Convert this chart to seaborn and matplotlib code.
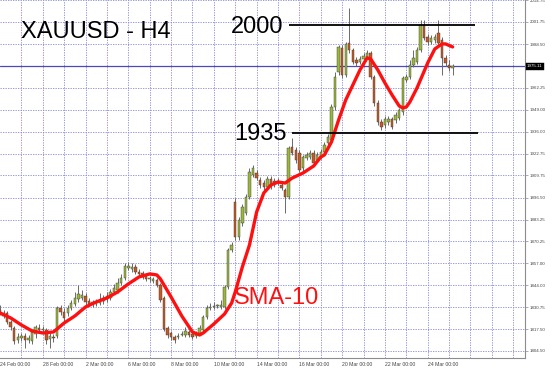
import matplotlib
matplotlib.use("Agg")
import matplotlib.pyplot as plt
import matplotlib.transforms as mtransforms
import seaborn as sns
import numpy as np
import pandas as pd

# ---------------- data (H4 bars, index 0 = 24 Feb 00:00) ----------------
opens = [1829.1, 1825.5, 1827.3, 1821.9, 1818.3, 1811.1, 1812.3, 1813.5, 1811.1, 1810.5,
         1814.7, 1818.3, 1817.1, 1817.1, 1811.7, 1812.9, 1813.5, 1830.3, 1827.9, 1827.3,
         1830.3, 1832.7, 1835.7, 1836.3, 1837.5, 1834.5, 1832.7, 1832.7, 1833.3, 1834.5,
         1835.7, 1836.3, 1839.9, 1841.1, 1845.3, 1848.3, 1854.3, 1853.7, 1854.9, 1851.9,
         1851.3, 1850.1, 1847.7, 1846.5, 1847.1, 1844.1, 1836.3, 1818.3, 1815.3, 1812.9,
         1812.9, 1814.1, 1814.1, 1815.9, 1814.7, 1813.5, 1815.3, 1817.1, 1824.9, 1830.3,
         1830.9, 1831.5, 1830.9, 1830.9, 1842.9, 1865.1, 1893.8, 1872.9, 1881.2, 1887.2,
         1896.8, 1910.0, 1911.2, 1907.0, 1905.2, 1902.8, 1907.6, 1906.4, 1905.8, 1904.0,
         1901.0, 1896.8, 1926.8, 1925.0, 1923.2, 1914.2, 1920.2, 1920.8, 1923.2, 1919.0,
         1920.8, 1923.8, 1929.2, 1931.0, 1950.8, 1971.8, 1986.2, 1970.0, 1989.2, 1985.0,
         1979.0, 1977.8, 1979.6, 1980.8, 1983.2, 1968.8, 1953.2, 1941.8, 1940.0, 1941.8,
         1943.6, 1943.0, 1944.2, 1947.8, 1967.0, 1968.8, 1976.0, 1977.8, 1985.0, 1999.9,
         1992.8, 1989.8, 1991.0, 1995.1, 1991.0, 1980.2, 1976.0, 1974.2]
highs = [1832.1, 1829.1, 1828.5, 1823.1, 1819.5, 1815.3, 1815.3, 1815.3, 1814.1, 1817.7,
         1820.1, 1820.7, 1819.5, 1818.3, 1815.3, 1814.7, 1831.5, 1832.1, 1830.3, 1832.1,
         1835.1, 1839.9, 1844.1, 1841.1, 1839.3, 1836.3, 1835.1, 1835.7, 1839.3, 1838.1,
         1839.9, 1841.7, 1844.7, 1848.3, 1850.7, 1857.3, 1857.9, 1857.3, 1856.7, 1853.7,
         1852.5, 1851.3, 1849.5, 1848.9, 1848.3, 1845.3, 1837.5, 1819.5, 1816.5, 1814.1,
         1815.3, 1816.5, 1818.9, 1817.1, 1815.9, 1816.5, 1820.1, 1826.1, 1832.1, 1833.3,
         1833.9, 1832.7, 1835.1, 1844.1, 1866.3, 1869.9, 1896.2, 1884.8, 1892.6, 1898.6,
         1914.2, 1916.0, 1913.0, 1908.8, 1907.0, 1909.4, 1909.4, 1908.2, 1908.2, 1905.8,
         1902.2, 1927.4, 1932.2, 1926.8, 1925.0, 1922.0, 1923.8, 1925.0, 1925.0, 1923.8,
         1925.6, 1929.8, 1934.6, 1952.6, 1971.8, 1988.0, 1988.0, 1989.8, 2010.1, 1986.2,
         1980.8, 1981.4, 1983.2, 1985.0, 1984.4, 1970.0, 1955.0, 1943.6, 1945.4, 1945.4,
         1944.8, 1947.8, 1950.2, 1969.4, 1970.6, 1979.0, 1985.0, 1986.8, 2002.9, 2002.9,
         1994.5, 1994.0, 1994.5, 2002.9, 1992.8, 1982.0, 1979.0, 1976.6]
lows = [1826.1, 1824.3, 1820.7, 1817.1, 1808.7, 1809.3, 1810.5, 1806.3, 1809.3, 1808.7,
        1812.3, 1815.3, 1814.7, 1808.7, 1806.3, 1809.9, 1812.3, 1826.1, 1821.9, 1825.5,
        1829.1, 1831.5, 1833.9, 1835.1, 1832.1, 1831.5, 1830.9, 1831.5, 1832.1, 1832.7,
        1833.9, 1835.1, 1838.7, 1839.3, 1844.1, 1847.1, 1853.1, 1851.9, 1850.7, 1848.9,
        1847.7, 1846.5, 1845.9, 1845.3, 1842.9, 1833.9, 1816.5, 1812.3, 1811.1, 1809.3,
        1811.7, 1813.5, 1812.9, 1812.9, 1811.7, 1812.3, 1814.1, 1815.9, 1823.7, 1829.1,
        1829.7, 1830.3, 1829.7, 1829.7, 1841.7, 1863.9, 1871.1, 1871.1, 1879.4, 1886.0,
        1895.6, 1908.8, 1907.0, 1902.2, 1901.0, 1901.0, 1901.6, 1902.8, 1904.0, 1901.0,
        1887.2, 1895.6, 1922.0, 1917.2, 1911.8, 1911.8, 1919.0, 1919.6, 1916.0, 1917.8,
        1919.6, 1922.6, 1928.0, 1929.8, 1949.0, 1970.0, 1968.2, 1968.8, 1983.2, 1976.6,
        1975.4, 1976.6, 1978.4, 1979.6, 1967.6, 1951.4, 1940.0, 1937.0, 1938.2, 1940.0,
        1937.6, 1941.2, 1943.0, 1946.0, 1965.8, 1967.6, 1974.8, 1976.6, 1983.8, 1991.0,
        1988.0, 1988.6, 1989.2, 1987.4, 1970.0, 1975.4, 1972.4, 1970.0]
closes = [1827.9, 1827.3, 1821.9, 1818.9, 1810.5, 1812.9, 1813.5, 1811.1, 1812.3, 1815.9,
          1818.9, 1817.1, 1817.7, 1811.1, 1813.5, 1812.3, 1830.3, 1827.9, 1824.3, 1830.3,
          1833.3, 1836.3, 1838.7, 1838.1, 1833.9, 1832.7, 1833.9, 1833.9, 1835.1, 1836.3,
          1837.5, 1839.9, 1842.3, 1845.3, 1848.3, 1855.5, 1855.5, 1854.9, 1851.9, 1850.7,
          1848.9, 1847.7, 1848.3, 1847.7, 1844.1, 1835.1, 1817.7, 1814.1, 1812.9, 1811.1,
          1813.5, 1814.7, 1816.5, 1814.1, 1812.9, 1814.7, 1818.3, 1824.9, 1830.3, 1830.9,
          1831.5, 1831.8, 1832.1, 1842.9, 1865.1, 1868.1, 1872.9, 1883.0, 1890.8, 1896.8,
          1911.8, 1914.2, 1908.2, 1904.0, 1902.8, 1907.6, 1903.4, 1904.6, 1906.4, 1902.2,
          1896.8, 1926.2, 1923.2, 1919.0, 1913.0, 1920.8, 1922.0, 1923.2, 1917.2, 1922.0,
          1923.8, 1928.0, 1932.8, 1950.8, 1968.8, 1986.8, 1970.0, 1988.6, 1985.0, 1977.8,
          1977.2, 1979.6, 1981.4, 1983.2, 1968.8, 1953.2, 1941.8, 1938.8, 1943.6, 1943.6,
          1938.8, 1946.0, 1949.0, 1968.2, 1968.8, 1976.0, 1980.2, 1985.0, 1999.9, 1992.1,
          1989.8, 1992.1, 1992.8, 1989.2, 1980.2, 1977.2, 1974.2, 1975.11]

# SMA-10 line (bar index, value)
sma_bar = [0, 3, 6, 9, 12, 15, 18, 21, 24, 27, 30, 33, 36, 39, 42, 44, 45, 48, 51, 54,
           56, 57, 60, 63, 65, 66, 68, 70, 72, 74, 76, 78, 80, 82, 85, 88, 90, 91, 93, 95,
           97, 99, 101, 103, 104, 106, 108, 110, 112, 113, 114, 115, 117, 120, 122, 124,
           125, 127]
sma_val = [1827.3, 1824.3, 1820.1, 1816.5, 1815.3, 1815.9, 1821.3, 1825.5, 1830.9, 1833.9,
           1836.3, 1839.9, 1844.7, 1848.9, 1850.7, 1850.1, 1847.7, 1836.9, 1825.5, 1815.9,
           1814.1, 1815.3, 1820.7, 1826.7, 1833.3, 1839.9, 1854.9, 1868.1, 1887.8, 1899.2,
           1904.0, 1905.8, 1905.2, 1908.2, 1911.2, 1915.4, 1920.8, 1922.0, 1929.8, 1943.0,
           1955.0, 1964.0, 1973.0, 1980.2, 1979.6, 1973.0, 1965.2, 1958.0, 1951.4, 1950.2,
           1950.8, 1953.8, 1962.2, 1977.2, 1985.6, 1988.6, 1988.6, 1986.8]

# price axis labels
price_ticks = [2014.75, 2001.75, 1988.50, 1962.25, 1949.00, 1936.00, 1922.75, 1909.75,
               1896.50, 1883.25, 1870.25, 1857.00, 1844.00, 1830.75, 1817.50, 1804.50]
grid_prices = [2014.75, 2001.75, 1988.50, 1975.25, 1962.25, 1949.00, 1936.00, 1922.75,
               1909.75, 1896.50, 1883.25, 1870.25, 1857.00, 1844.00, 1830.75, 1817.50,
               1804.50]
current_price = 1975.11

# time axis labels (every 12 bars)
date_labels = ["24 Feb 00:00", "28 Feb 00:00", "2 Mar 00:00", "6 Mar 00:00", "8 Mar 00:00",
               "10 Mar 00:00", "14 Mar 00:00", "16 Mar 00:00", "20 Mar 00:00",
               "22 Mar 00:00", "24 Mar 00:00"]
date_bars = [0, 12, 24, 36, 48, 60, 72, 84, 96, 108, 120]

# horizontal levels
levels = [2000, 1935]
level_text = ["2000", "1935"]
level_start = [81.0, 81.8]
level_end = [133.3, 134.0]

# ---------------- figure ----------------
sns.set_style("white")
plt.rcParams["font.family"] = ["Liberation Sans", "DejaVu Sans"]

W, H = 554, 369
fig = plt.figure(figsize=(W / 100, H / 100), dpi=100)
ax = fig.add_axes([0, 1 - 358 / H, 525 / W, 358 / H])
ax.set_xlim(0.28, 147.3)
ax.set_ylim(1800.3, 2014.93)

grid_col = "#8a8ad6"
for gx in range(6, 148, 6):
    ax.axvline(gx, color=grid_col, lw=0.6, ls=(0, (1.6, 1.4)), zorder=0)
for gp in grid_prices:
    ax.axhline(gp, color=grid_col, lw=0.6, ls=(0, (1.6, 1.4)), zorder=0)

# current price line
ax.axhline(current_price, color="#4a4ab8", lw=0.9, zorder=1)

# candles
df = pd.DataFrame({"o": opens, "h": highs, "l": lows, "c": closes})
df["bar"] = np.arange(len(df))
up = df["c"] >= df["o"]
col_up, col_dn = "#9ab83a", "#c65a22"
ax.vlines(df["bar"], df["l"], df["h"], color="#6a6a6a", lw=0.7, zorder=2)
body_lo = np.minimum(df["o"], df["c"])
body_h = np.maximum(np.abs(df["c"] - df["o"]), 0.35)
ax.bar(df["bar"], body_h, bottom=body_lo, width=0.68,
       color=np.where(up, col_up, col_dn), edgecolor="#3a3a3a", linewidth=0.3, zorder=3)

# SMA-10
sma_df = pd.DataFrame({"bar": sma_bar, "sma": sma_val})
sns.lineplot(data=sma_df, x="bar", y="sma", ax=ax, color="#ff1010", lw=2.4,
             zorder=4, legend=False)
ax.set_xlabel("")
ax.set_ylabel("")

# levels
for lv, lt, s, e in zip(levels, level_text, level_start, level_end):
    ax.hlines(lv, s, e, color="black", lw=1.3, zorder=5)
    ax.text(s - 1.4, lv - 0.5 if lv == 1935 else lv - 1.3, lt, ha="right", va="center",
            fontsize=17, color="black", zorder=6)

fig.text(21 / W, 1 - 32.5 / H, "XAUUSD - H4", ha="left", va="center", fontsize=17, color="black")
ax.text(65.6, 1836.5, "SMA-10", ha="left", va="center", fontsize=17, color="#ff1010", zorder=6)

# axes styling
for side in ["left", "top"]:
    ax.spines[side].set_visible(False)
for side in ["right", "bottom"]:
    ax.spines[side].set_color("#8c8c8c")
    ax.spines[side].set_linewidth(0.8)

ax.yaxis.tick_right()
ax.set_yticks(price_ticks)
ax.set_yticklabels([f"{p:.2f}" for p in price_ticks])
ax.tick_params(axis="y", which="both", length=2, width=0.5, color="#8c8c8c",
               labelsize=3.2, labelcolor="#444444", pad=1.2, right=True, left=False)
ax.set_xticks(date_bars)
ax.set_xticklabels(date_labels)
ax.tick_params(axis="x", length=0, labelsize=3.7, labelcolor="#444444", pad=3)
for lab in ax.get_xticklabels():
    lab.set_horizontalalignment("left")

# current price tag
trans = mtransforms.blended_transform_factory(ax.transAxes, ax.transData)
ax.text(1.004, current_price, f"{current_price:.2f}", transform=trans, ha="left", va="center",
        fontsize=3.2, color="white", clip_on=False,
        bbox=dict(boxstyle="square,pad=0.35", fc="black", ec="black", lw=0.3))

fig.savefig("out.png", dpi=100, facecolor="white")
